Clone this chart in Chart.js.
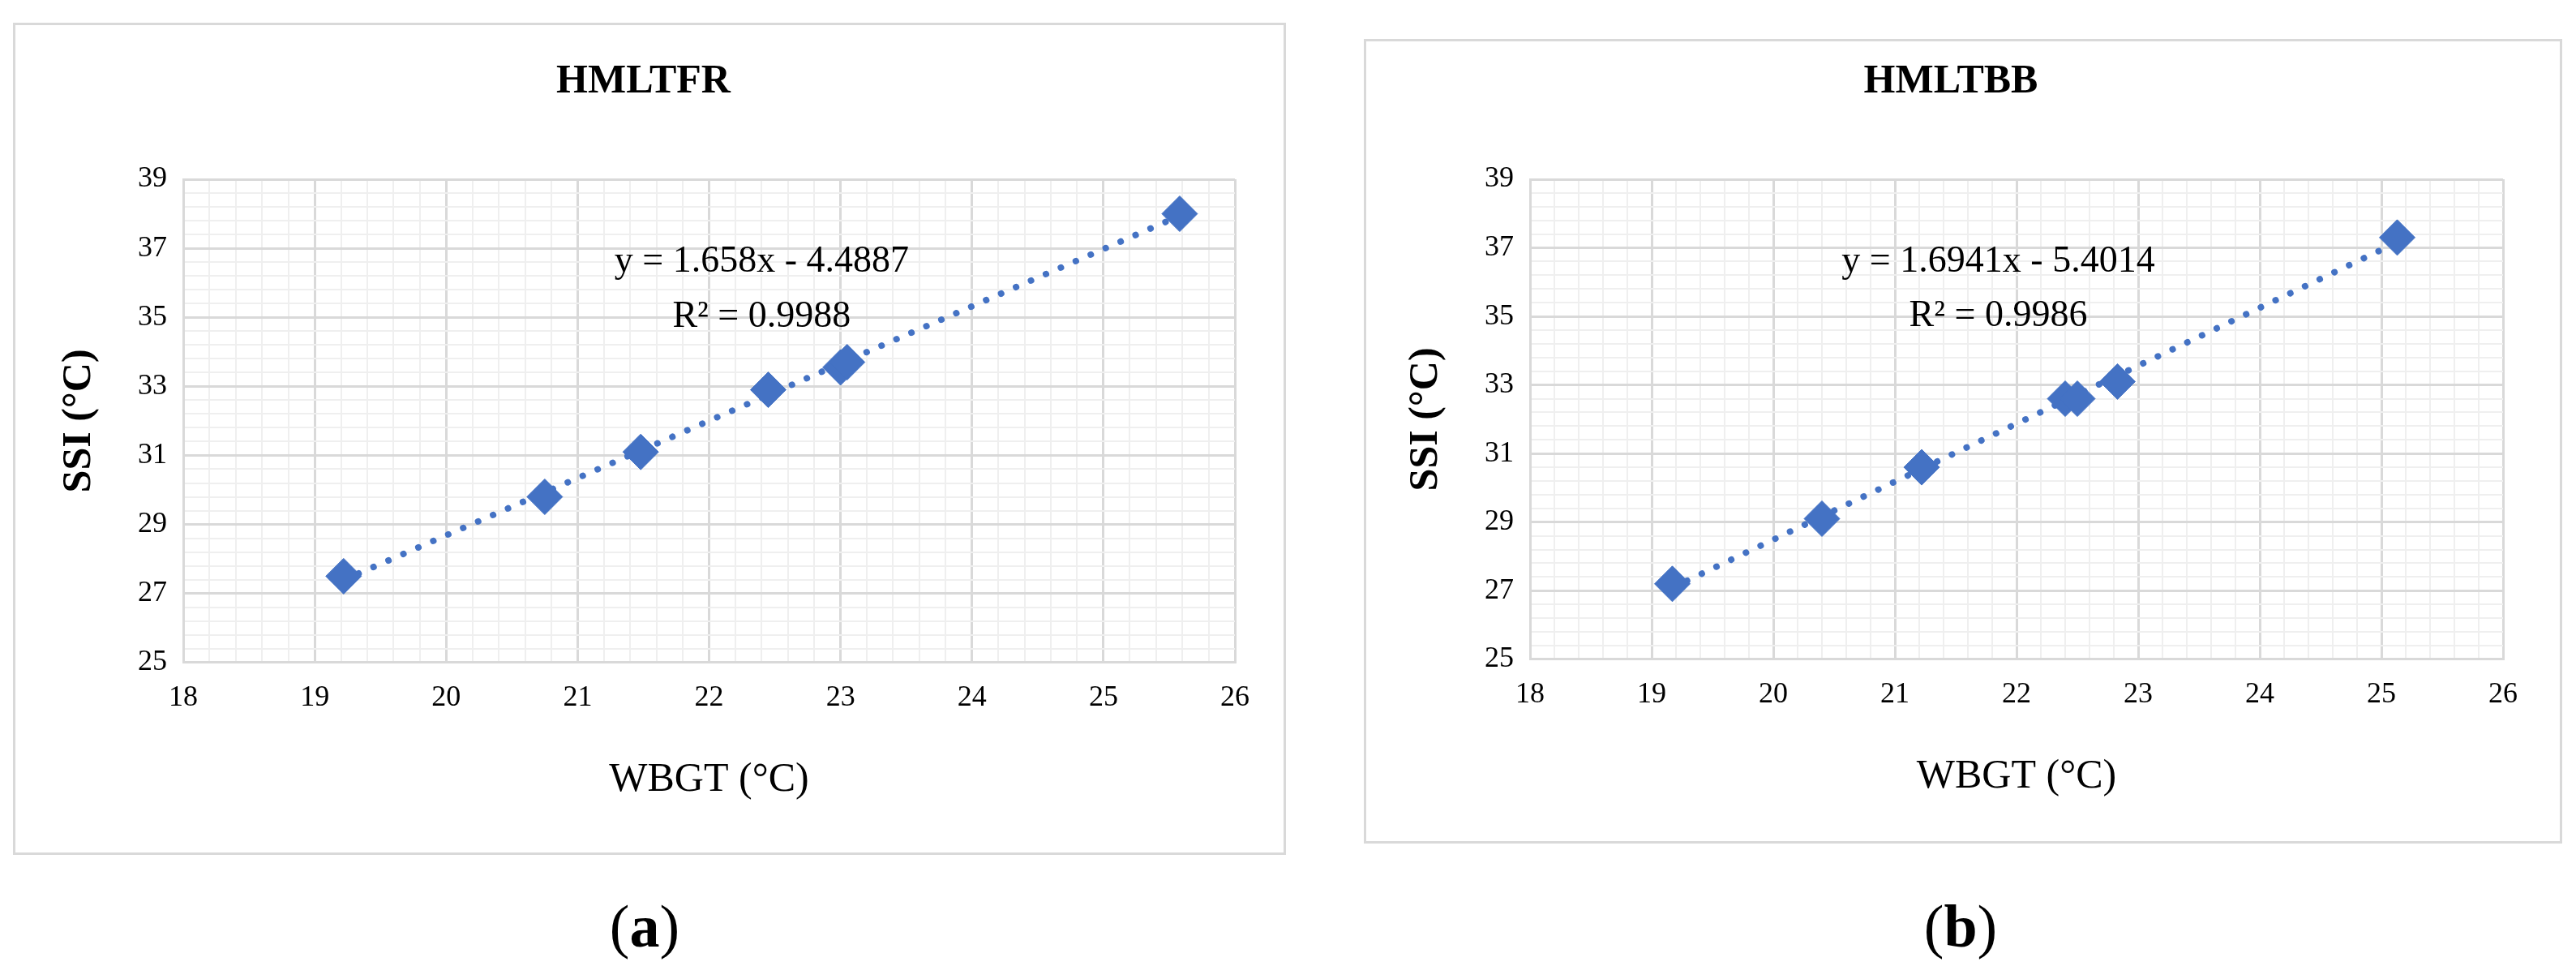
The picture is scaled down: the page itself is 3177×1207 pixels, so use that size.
<!DOCTYPE html>
<html><head><meta charset="utf-8">
<script src="https://cdn.jsdelivr.net/npm/chart.js@4"></script>
<style>
body{margin:0;background:#fff;width:3177px;height:1207px;position:relative;overflow:hidden;font-family:"Liberation Serif",serif}
.box{position:absolute;border:3px solid #d9d9d9;box-sizing:border-box}
.lab{position:absolute;font-size:74px;font-family:"Liberation Serif",serif;transform:translateX(-50%)}
</style></head><body>
<div class="box" style="left:16px;top:28px;width:1570px;height:1026px"><canvas id="c1" width="1564" height="1020"></canvas></div>
<div class="box" style="left:1682px;top:48px;width:1478px;height:992px"><canvas id="c2" width="1472" height="986"></canvas></div>
<div class="lab" style="left:795px;top:1100px">(<b>a</b>)</div>
<div class="lab" style="left:2418px;top:1100px">(<b>b</b>)</div>
<script>
const xTicks=[18,19,20,21,22,23,24,25,26];
const yTicks=[25,27,29,31,33,35,37,39];
const wbgtA=[19.22,20.75,21.48,22.45,23.0,23.05,25.58];
const ssiA=[27.5,29.8,31.1,32.9,33.55,33.7,38.0];
const wbgtB=[19.17,20.40,21.22,22.40,22.50,22.83,25.13];
const ssiB=[27.2,29.1,30.6,32.6,32.6,33.1,37.3];
const eqA=["y = 1.658x - 4.4887","R² = 0.9988"];
const eqB=["y = 1.6941x - 5.4014","R² = 0.9986"];
const BLUE='#4472c4';
function fit(xs,ys){const n=xs.length;let sx=0,sy=0,sxx=0,sxy=0;for(let i=0;i<n;i++){sx+=xs[i];sy+=ys[i];sxx+=xs[i]*xs[i];sxy+=xs[i]*ys[i];}
const m=(n*sxy-sx*sy)/(n*sxx-sx*sx),b=(sy-m*sx)/n;const a=Math.min(...xs),z=Math.max(...xs);return [{x:a,y:m*a+b},{x:z,y:m*z+b}];}
function make(id,title,xs,ys,eq,eqX,pad){
 const isInt=v=>Math.abs(v-Math.round(v))<1e-6;
 const isMajY=v=>isInt(v)&&Math.round(v)%2===1;
 new Chart(document.getElementById(id),{type:'scatter',
  data:{datasets:[
   {data:xs.map((x,i)=>({x,y:ys[i]})),backgroundColor:BLUE,borderColor:BLUE,pointStyle:'rectRot',pointRadius:22,pointHoverRadius:22,order:0},
   {type:'line',data:fit(xs,ys),borderColor:BLUE,borderWidth:8,borderDash:[0.1,20],borderCapStyle:'round',pointRadius:0,showLine:true,order:1}
  ]},
  options:{responsive:false,devicePixelRatio:1,animation:false,
   layout:{padding:pad},
   plugins:{legend:{display:false},tooltip:{enabled:false},
    title:{display:true,text:title,font:{family:'Liberation Serif',size:50,weight:'bold'},color:'#000',padding:{top:0,bottom:90}}},
   scales:{
    x:{type:'linear',min:18,max:26,
     afterBuildTicks:s=>{s.ticks=[];for(let i=0;i<=40;i++)s.ticks.push({value:18+i*0.2});},
     ticks:{autoSkip:false,maxRotation:0,padding:22,font:{family:'Liberation Serif',size:36},color:'#000',callback:v=>isInt(v)?Math.round(v):''},
     grid:{color:c=>isInt(c.tick.value)?'#d9d9d9':'#efefef',lineWidth:c=>isInt(c.tick.value)?3:2,drawTicks:false},
     border:{color:'#d9d9d9',width:3},
     title:{display:true,text:'WBGT (°C)',font:{family:'Liberation Serif',size:50},color:'#000',padding:{top:28}}},
    y:{type:'linear',min:25,max:39,
     afterBuildTicks:s=>{s.ticks=[];for(let i=0;i<=35;i++)s.ticks.push({value:25+i*0.4});},
     ticks:{autoSkip:false,padding:20,font:{family:'Liberation Serif',size:36},color:'#000',callback:v=>isMajY(v)?Math.round(v):''},
     grid:{color:c=>isMajY(c.tick.value)?'#d9d9d9':'#efefef',lineWidth:c=>isMajY(c.tick.value)?3:2,drawTicks:false},
     border:{color:'#d9d9d9',width:3},
     title:{display:true,text:'SSI (°C)',font:{family:'Liberation Serif',size:50,weight:'bold'},color:'#000',padding:{bottom:22}}}
   }},
  plugins:[{id:'eq',afterDatasetsDraw(ch){const c=ch.ctx,xs=ch.scales.x,ys=ch.scales.y;c.save();c.font='46px "Liberation Serif"';c.fillStyle='#000';c.textAlign='center';c.textBaseline='middle';
   c.fillText(eq[0],xs.getPixelForValue(eqX),ys.getPixelForValue(36.6));c.fillText(eq[1],xs.getPixelForValue(eqX),ys.getPixelForValue(35.0));c.restore();}}]
 });
}
make('c1','HMLTFR',wbgtA,ssiA,eqA,22.4,{left:45,right:60,top:40,bottom:55});
make('c2','HMLTBB',wbgtB,ssiB,eqB,21.85,{left:40,right:70,top:20,bottom:45});
</script></body></html>
